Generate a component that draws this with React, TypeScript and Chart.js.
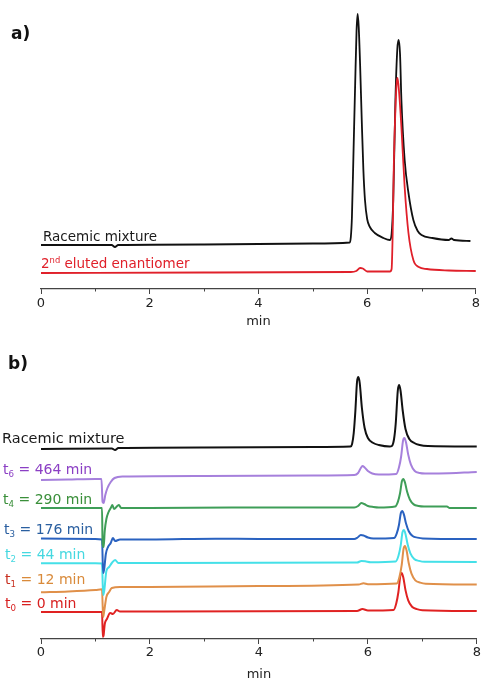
import React, { useEffect, useRef } from "react";
import { Chart, registerables } from "chart.js";

Chart.register(...registerables);

// ---------- DATA (min, signal) ----------
const X_TICKS = [0, 2, 4, 6, 8];
const X_MINOR = [1, 3, 5, 7];

const topRacemic: [number, number][] = [
  [0, 44], [1.3, 44], [1.36, 42], [1.42, 44], [3, 44.5], [5, 45.5], [5.68, 46.5],
  [5.7, 52], [5.72, 72], [5.75, 139], [5.78, 206], [5.805, 258], [5.825, 275],
  [5.845, 262], [5.87, 225], [5.9, 170], [5.93, 120], [5.96, 89], [6.0, 70],
  [6.05, 62], [6.14, 56], [6.3, 51], [6.42, 49], [6.45, 55], [6.48, 89], [6.52, 189],
  [6.555, 240], [6.58, 249], [6.605, 235], [6.63, 189], [6.69, 129], [6.76, 96],
  [6.85, 69], [6.93, 58], [7.0, 54], [7.2, 51], [7.5, 49], [7.55, 50.5], [7.6, 49], [7.9, 48],
];
const topSecond: [number, number][] = [
  [0, 16], [3, 16.5], [5.7, 17], [5.8, 18], [5.87, 21], [5.92, 20.5], [6.0, 17.5],
  [6.42, 17.5], [6.45, 20], [6.47, 56], [6.49, 122], [6.52, 180], [6.545, 207],
  [6.56, 211], [6.59, 195], [6.63, 162], [6.69, 102], [6.76, 56], [6.85, 29],
  [6.95, 22], [7.1, 20], [7.5, 18.5], [8.0, 18],
];

const racemicB: [number, number][] = [
  [0, 190], [1.3, 190.5], [1.36, 189], [1.42, 191], [3, 191.5], [5, 192], [5.68, 192.5],
  [5.71, 195], [5.74, 206], [5.77, 228], [5.8, 257], [5.825, 262], [5.85, 256],
  [5.89, 231], [5.94, 211], [6.0, 201], [6.1, 196], [6.2, 194], [6.4, 192.5],
  [6.44, 193], [6.48, 200], [6.51, 215], [6.55, 249], [6.575, 254], [6.6, 248],
  [6.64, 228], [6.69, 210], [6.76, 200], [6.85, 196], [6.95, 194], [7.1, 193], [8, 192.5],
];
const t6: [number, number][] = [
  [0, 159], [0.5, 159.5], [1.0, 160], [1.11, 160], [1.13, 137], [1.15, 136], [1.18, 144],
  [1.22, 151], [1.28, 157], [1.35, 161], [1.5, 162.5], [3, 163], [5, 163.5], [5.75, 164],
  [5.82, 166], [5.87, 171], [5.9, 173], [5.94, 171.5], [6.0, 168], [6.08, 165.5],
  [6.2, 164.5], [6.52, 165], [6.57, 171.4], [6.61, 182.5], [6.645, 198.4], [6.67, 201],
  [6.7, 196.6], [6.74, 184.4], [6.79, 174.4], [6.86, 168], [6.95, 166], [7.05, 165.5],
  [7.3, 165.5], [8, 167],
];
const t4: [number, number][] = [
  [0, 131], [1.0, 131], [1.12, 131], [1.13, 95], [1.15, 92], [1.17, 108], [1.2, 120],
  [1.24, 127], [1.28, 131], [1.31, 134], [1.34, 130], [1.4, 133], [1.43, 134], [1.47, 131],
  [2, 131], [3.5, 131.5], [5.75, 131.5], [5.82, 133], [5.88, 136], [5.93, 135],
  [6.0, 133], [6.1, 132], [6.2, 131.5], [6.5, 132.5], [6.55, 137.2], [6.59, 145.8],
  [6.625, 158], [6.65, 160], [6.68, 156.6], [6.72, 147.2], [6.77, 139.5], [6.84, 134.6],
  [6.93, 133], [7.03, 132.5], [7.45, 132.5], [7.5, 131], [8, 131],
];
const t3: [number, number][] = [
  [0, 100.5], [1.0, 100], [1.12, 99.5], [1.14, 66], [1.16, 70], [1.19, 85], [1.23, 92],
  [1.28, 96], [1.32, 101], [1.36, 98], [1.45, 99.5], [2, 99.5], [3.2, 100.3], [4, 100],
  [5.75, 100], [5.81, 101.5], [5.87, 104], [5.92, 103.5], [6.0, 101.5], [6.1, 100.5],
  [6.48, 101], [6.53, 105.6], [6.57, 114], [6.605, 126], [6.63, 128], [6.66, 124.6],
  [6.7, 115.4], [6.75, 107.8], [6.82, 103], [6.91, 101.4], [7.01, 100.6], [8, 100],
];
const t2: [number, number][] = [
  [0, 75.7], [1.0, 75.7], [1.12, 75.5], [1.14, 44], [1.16, 48], [1.2, 68], [1.25, 72],
  [1.3, 76], [1.36, 79], [1.42, 76], [2, 76], [5.8, 76.5], [5.88, 78], [5.95, 77.7],
  [6.05, 76.8], [6.51, 77.5], [6.56, 83], [6.6, 92.8], [6.635, 106.7], [6.66, 109],
  [6.69, 105.1], [6.73, 94.4], [6.78, 85.6], [6.85, 80], [6.94, 78.1], [7.04, 77.2],
  [8, 77],
];
const t1: [number, number][] = [
  [0, 46.7], [0.5, 47.5], [1.0, 49], [1.12, 49.7], [1.14, 22], [1.16, 28], [1.2, 42],
  [1.25, 47], [1.3, 51], [1.45, 52], [2, 52], [4, 53], [5.83, 54.5], [5.92, 55.7],
  [6.0, 54.8], [6.53, 55.5], [6.58, 62.2], [6.62, 73.8], [6.655, 90.3], [6.68, 93],
  [6.71, 88.4], [6.75, 75.7], [6.8, 65.3], [6.87, 58.7], [6.96, 56.4], [7.06, 55.3],
  [8, 54.5],
];
const t0: [number, number][] = [
  [0, 27], [1.0, 27], [1.12, 27], [1.135, 2], [1.15, 4], [1.17, 15], [1.21, 20],
  [1.27, 26], [1.32, 25], [1.39, 29], [1.45, 27.5], [2, 27.5], [5.8, 28], [5.9, 30],
  [6.0, 28.5], [6.47, 29], [6.52, 35.6], [6.56, 47], [6.595, 63.3], [6.62, 66],
  [6.65, 61.4], [6.69, 48.9], [6.74, 38.6], [6.81, 32.2], [6.9, 29.9], [7.0, 28.8],
  [8, 28],
];

// ---------- TEXT ----------
const PANEL_A = "a)";
const PANEL_B = "b)";
const X_TITLE = "min";
const RACEMIC = "Racemic mixture";
const SECOND = ["2", "nd", " eluted enantiomer"];
const T_LABELS = [
  ["t", "6", " = 464 min"],
  ["t", "4", " = 290 min"],
  ["t", "3", " = 176 min"],
  ["t", "2", " = 44 min"],
  ["t", "1", " = 12 min"],
  ["t", "0", " = 0 min"],
];

// ---------- STYLE ----------
const FONT = '"DejaVu Sans", "Liberation Sans", sans-serif';
const W = 482;
const H = 341;

type Part = { t: string; c: string; mode?: "sub" | "sup" };
type Label = { parts: Part[]; x: number; y: number; size: number; bold?: boolean };

function drawRich(ctx: CanvasRenderingContext2D, lab: Label) {
  let x = lab.x;
  ctx.save();
  ctx.textBaseline = "alphabetic";
  ctx.textAlign = "left";
  for (const p of lab.parts) {
    const sz = p.mode ? lab.size * 0.62 : lab.size;
    ctx.font = `${lab.bold ? "bold " : ""}${sz}px ${FONT}`;
    ctx.fillStyle = p.c;
    let y = lab.y;
    if (p.mode === "sub") y += lab.size * 0.2;
    if (p.mode === "sup") y -= lab.size * 0.4;
    ctx.fillText(p.t, x, y);
    x += ctx.measureText(p.t).width;
  }
  ctx.restore();
}

const labelPlugin = {
  id: "richLabels",
  afterDraw(chart: any, _args: any, opts: any) {
    const ctx = chart.ctx as CanvasRenderingContext2D;
    (opts.items || []).forEach((l: Label) => drawRich(ctx, l));
    const xs = chart.scales.x;
    ctx.save();
    ctx.strokeStyle = "#444";
    ctx.lineWidth = 1;
    X_MINOR.forEach((v) => {
      const px = Math.round(xs.getPixelForValue(v)) + 0.5;
      ctx.beginPath();
      ctx.moveTo(px, xs.top);
      ctx.lineTo(px, xs.top + 2.5);
      ctx.stroke();
    });
    ctx.restore();
  },
};

function makeDataset(data: [number, number][], color: string, width: number) {
  return {
    data: data.map(([x, y]) => ({ x, y })),
    borderColor: color,
    borderWidth: width,
    pointRadius: 0,
    fill: false,
    cubicInterpolationMode: "monotone" as const,
  };
}

function makeOptions(yMax: number, axisH: number, titlePad: number, titleLH: number, tickPad: number, items: Label[]) {
  return {
    responsive: false,
    animation: false as const,
    devicePixelRatio: 1,
    layout: { padding: { top: 5, left: 41, right: 4, bottom: 0 } },
    plugins: {
      legend: { display: false },
      tooltip: { enabled: false },
      richLabels: { items },
    },
    scales: {
      x: {
        type: "linear" as const,
        min: 0,
        max: 8,
        afterBuildTicks: (s: any) => {
          s.ticks = X_TICKS.map((v) => ({ value: v }));
        },
        afterFit: (s: any) => {
          s.height = axisH;
        },
        ticks: {
          font: { family: FONT, size: 13 },
          color: "#222",
          padding: tickPad,
          maxRotation: 0,
        },
        grid: {
          drawOnChartArea: false,
          drawTicks: true,
          tickLength: 5,
          tickColor: "#444",
          tickWidth: 1,
        },
        border: { display: true, color: "#444", width: 1.2 },
        title: {
          display: true,
          text: X_TITLE,
          color: "#222",
          font: { family: FONT, size: 13, lineHeight: titleLH },
          padding: { top: 0, bottom: titlePad },
        },
      },
      y: { display: false, min: 0, max: yMax },
    },
  };
}

export default function App() {
  const topRef = useRef<HTMLCanvasElement>(null);
  const botRef = useRef<HTMLCanvasElement>(null);

  useEffect(() => {
    const topItems: Label[] = [
      { parts: [{ t: PANEL_A, c: "#111" }], x: 11, y: 39, size: 17, bold: true },
      { parts: [{ t: RACEMIC, c: "#1a1a1a" }], x: 43, y: 241, size: 13.5 },
      {
        parts: [
          { t: SECOND[0], c: "#e0202a" },
          { t: SECOND[1], c: "#e0202a", mode: "sup" },
          { t: SECOND[2], c: "#e0202a" },
        ],
        x: 41, y: 268, size: 13.5,
      },
    ];
    const tColors = [
      ["#8b3fc4", "#8b3fc4"],
      ["#3a8f3a", "#3a8f3a"],
      ["#2a5fa0", "#2a5fa0"],
      ["#45d8e0", "#45d8e0"],
      ["#c83020", "#d98a3a"],
      ["#d82020", "#d82020"],
    ];
    const tPos = [
      [3, 133], [3, 163], [4, 193], [5, 218], [5, 243], [5, 267],
    ];
    const botItems: Label[] = [
      { parts: [{ t: PANEL_B, c: "#111" }], x: 8, y: 28, size: 17, bold: true },
      { parts: [{ t: RACEMIC, c: "#1a1a1a" }], x: 2, y: 102, size: 14.5 },
      ...T_LABELS.map((l, i) => ({
        parts: [
          { t: l[0], c: tColors[i][0] },
          { t: l[1], c: tColors[i][0], mode: "sub" as const },
          { t: l[2], c: tColors[i][1] },
        ],
        x: tPos[i][0], y: tPos[i][1], size: 14,
      })),
    ];

    const topChart = new Chart(topRef.current!, {
      type: "line",
      data: {
        datasets: [
          makeDataset(topSecond, "#e0202a", 1.8),
          makeDataset(topRacemic, "#111111", 1.8),
        ],
      },
      options: makeOptions(284, 52, 12, 1.2, 2, topItems) as any,
      plugins: [labelPlugin],
    });

    const botChart = new Chart(botRef.current!, {
      type: "line",
      data: {
        datasets: [
          makeDataset(racemicB, "#111111", 2),
          makeDataset(t6, "#a680dc", 2),
          makeDataset(t4, "#3f9e58", 2),
          makeDataset(t3, "#2a62c0", 2),
          makeDataset(t2, "#45e0e8", 2),
          makeDataset(t1, "#e0904a", 2),
          makeDataset(t0, "#e02222", 2),
        ],
      },
      options: makeOptions(293, 43, 0.5, 1, 1, botItems) as any,
      plugins: [labelPlugin],
    });

    return () => {
      topChart.destroy();
      botChart.destroy();
    };
  }, []);

  return (
    <div style={{ position: "absolute", left: 0, top: 0, width: W, height: 2 * H, background: "#fff" }}>
      <canvas ref={topRef} width={W} height={H} style={{ position: "absolute", left: 0, top: 0, width: W, height: H }} />
      <canvas ref={botRef} width={W} height={H} style={{ position: "absolute", left: 0, top: H, width: W, height: H }} />
    </div>
  );
}
